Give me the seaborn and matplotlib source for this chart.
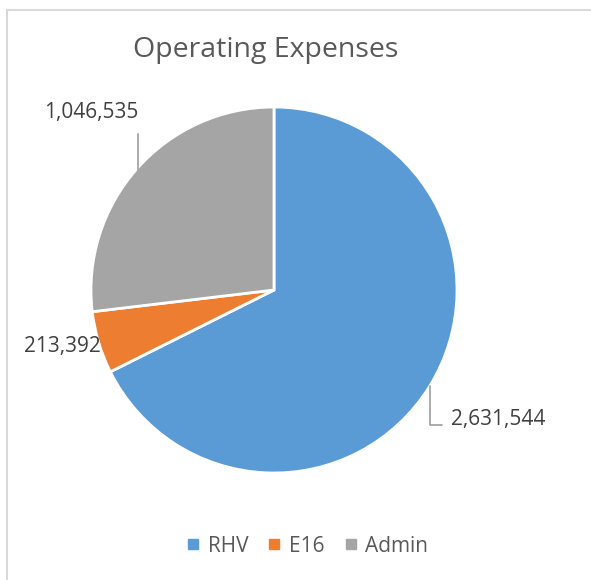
import numpy as np
import matplotlib
matplotlib.use("Agg")
import matplotlib.pyplot as plt
from matplotlib.lines import Line2D
import seaborn as sns

# data
categories = ["RHV", "E16", "Admin"]
values = [2631544, 213392, 1046535]
value_labels = ["2,631,544", "213,392", "1,046,535"]
colors = ["#5B9BD5", "#ED7D31", "#A5A5A5"]

sns.set_theme(style="white")
plt.rcParams["font.family"] = ["Open Sans", "DejaVu Sans"]

fig = plt.figure(figsize=(5.91, 5.8), dpi=100)
W, H = 591, 580

# pie centre / radius in pixels
cx, cy, r = 274, 290, 183
ax = fig.add_axes([(cx - r) / W, 1 - (cy + r) / H, 2 * r / W, 2 * r / H])

wedges, _ = ax.pie(values, colors=colors, startangle=90, counterclock=False,
                   radius=1.0, wedgeprops=dict(edgecolor="white", linewidth=2))
ax.set_xlim(-1, 1)
ax.set_ylim(-1, 1)
ax.set_aspect("auto")
ax.axis("off")

# data labels with leader lines, computed from wedge angles
txt_col = "#404040"
line_col = "#A6A6A6"
fs = 15
for i, w in enumerate(wedges):
    mid = np.deg2rad((w.theta1 + w.theta2) / 2)
    px, py = np.cos(mid), np.sin(mid)
    if i == 0:
        ax.plot([px, px, px + 0.07], [py, -0.74, -0.74], color=line_col, lw=1.3, clip_on=False)
        ax.text(px + 0.115, -0.705, value_labels[i], ha="left", va="center",
                fontsize=fs, color=txt_col)
    elif i == 1:
        ax.text(px + 0.01, py - 0.02, value_labels[i], ha="right", va="center",
                fontsize=fs, color=txt_col)
    else:
        ax.plot([px + 0.005, px + 0.005], [py - 0.03, 0.85], color=line_col, lw=1.3, clip_on=False)
        ax.text(px + 0.005, 0.97, value_labels[i], ha="right", va="center",
                fontsize=fs, color=txt_col)

fig.text(266 / W, 1 - 50 / H, "Operating Expenses", ha="center", va="center",
         fontsize=20.5, color="#595959")

handles = [plt.Line2D([], [], marker="s", linestyle="", markersize=7,
                      markerfacecolor=c, markeredgecolor=c) for c in colors]
fig.legend(handles, categories, loc="center", bbox_to_anchor=(307 / W, 1 - 546 / H),
           ncol=3, frameon=False, fontsize=15, labelcolor="#595959",
           handlelength=0.7, handletextpad=0.35, columnspacing=0.9)

# chart area border (only top and left edges visible in the crop)
fig.add_artist(Line2D([6.5 / W, 1], [1 - 9.5 / H, 1 - 9.5 / H], color="#D9D9D9", lw=1.5))
fig.add_artist(Line2D([6.5 / W, 6.5 / W], [0, 1 - 9.5 / H], color="#D9D9D9", lw=1.5))

fig.savefig("out.png", dpi=100, facecolor="white")
